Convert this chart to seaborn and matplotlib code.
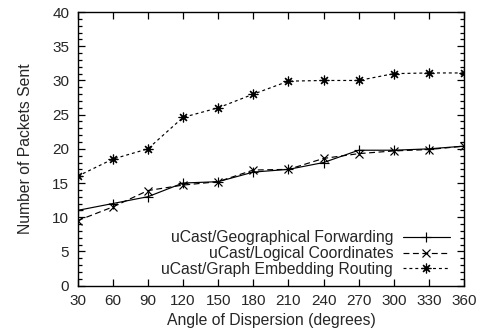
import matplotlib
matplotlib.use("Agg")
import matplotlib.pyplot as plt
import seaborn as sns
import pandas as pd
from matplotlib.ticker import MultipleLocator

angles = [30, 60, 90, 120, 150, 180, 210, 240, 270, 300, 330, 360]
geographical = [11.0, 12.0, 13.0, 15.0, 15.2, 16.6, 17.0, 18.0, 19.8, 19.8, 20.0, 20.4]
logical = [9.5, 11.5, 13.9, 14.7, 15.2, 16.9, 17.0, 18.6, 19.3, 19.7, 19.9, 20.4]
embedding = [16.0, 18.5, 20.0, 24.6, 26.0, 28.0, 29.9, 30.0, 30.0, 31.0, 31.1, 31.1]

series_names = ["uCast/Geographical Forwarding",
                "uCast/Logical Coordinates",
                "uCast/Graph Embedding Routing"]

sns.set_style("ticks")
plt.rcParams["font.family"] = ["Liberation Sans", "DejaVu Sans"]

fig = plt.figure(figsize=(4.82, 3.36), dpi=100)
ax = fig.add_axes([0.161, 0.150, 0.802, 0.814])

styles = [
    dict(linestyle="-", marker="+", markersize=7),
    dict(linestyle=(0, (5, 3)), marker="x", markersize=6),
    dict(linestyle=(0, (2.5, 2.5)), marker=(8, 2, 0), markersize=7),
]

for name, values, st in zip(series_names, [geographical, logical, embedding], styles):
    df = pd.DataFrame({"angle": angles, "packets": values})
    sns.lineplot(data=df, x="angle", y="packets", ax=ax, color="black",
                 linewidth=0.85, markeredgewidth=0.85, markeredgecolor="black",
                 markerfacecolor="black", label=name, **st)

ax.set_xlim(30, 360)
ax.set_ylim(0, 40)
ax.set_xticks(angles)
ax.yaxis.set_major_locator(MultipleLocator(5))
ax.yaxis.set_minor_locator(MultipleLocator(1))
ax.tick_params(which="both", direction="in", top=True, right=True,
               labelsize=11, color="black", width=0.9)
ax.tick_params(which="major", length=5, pad=6)
ax.tick_params(which="minor", length=3)
ax.tick_params(axis="x", which="minor", top=False, bottom=False)
for sp in ax.spines.values():
    sp.set_linewidth(1.0)
    sp.set_color("black")

ax.set_xlabel("Angle of Dispersion (degrees)", fontsize=11.3, labelpad=4)
ax.set_ylabel("Number of Packets Sent", fontsize=11.3, labelpad=14)

leg = ax.legend(loc="lower right", frameon=False, markerfirst=False,
                fontsize=11.3, handlelength=3.0, handletextpad=0.6,
                labelspacing=0.05, borderaxespad=0.15,
                bbox_to_anchor=(0.985, 0.0))
for t in leg.get_texts():
    t.set_ha("right")
leg._legend_box.align = "right"

fig.savefig("out.png", dpi=100)
